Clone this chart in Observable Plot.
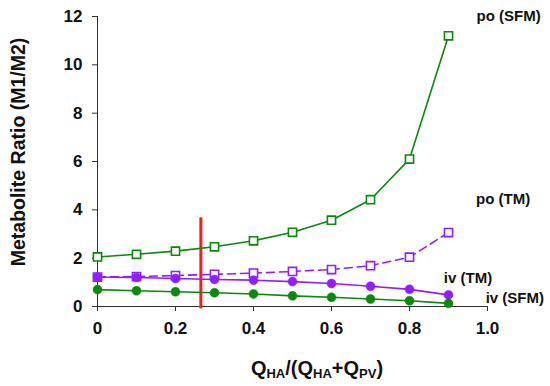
<!DOCTYPE html>
<html>
<head>
<meta charset="utf-8">
<script src="https://cdn.jsdelivr.net/npm/d3@7"></script>
<script src="https://cdn.jsdelivr.net/npm/@observablehq/plot@0.6"></script>
<style>
  html, body { margin: 0; padding: 0; background: #fff; }
  #chart { width: 550px; height: 386px; }
</style>
</head>
<body>
<div id="chart"></div>
<script>
// ---- data ----
const xValues = [0, 0.1, 0.2, 0.3, 0.4, 0.5, 0.6, 0.7, 0.8, 0.9];
const poSFM = [2.05, 2.16, 2.29, 2.47, 2.72, 3.07, 3.57, 4.42, 6.1, 11.2];
const poTM  = [1.22, 1.24, 1.28, 1.33, 1.38, 1.45, 1.53, 1.69, 2.04, 3.06];
const ivTM  = [1.21, 1.20, 1.16, 1.12, 1.09, 1.03, 0.95, 0.84, 0.71, 0.48];
const ivSFM = [0.70, 0.65, 0.61, 0.57, 0.52, 0.44, 0.38, 0.31, 0.24, 0.13];
const xTicks = [0, 0.2, 0.4, 0.6, 0.8, 1.0];
const xTickLabels = ["0", "0.2", "0.4", "0.6", "0.8", "1.0"];
const yTicks = [0, 2, 4, 6, 8, 10, 12];
const redLineX = [0.265];
const redLineTop = 3.67;
const seriesNames = ["po (SFM)", "po (TM)", "iv (TM)", "iv (SFM)"];
const labelX = [1.054, 1.04, 0.95, 1.07];
const labelY = [12.0, 4.45, 1.16, 0.33];

// ---- build tables ----
const seriesValues = [poSFM, poTM, ivTM, ivSFM];
const rows = [];
seriesNames.forEach((name, i) => {
  xValues.forEach((x, j) => rows.push({series: name, x, y: seriesValues[i][j]}));
});
const labels = seriesNames.map((name, i) => ({name, x: labelX[i], y: labelY[i]}));

const green = "#0d870d";
const purple = "#8f1fff";
const style = {
  "po (SFM)": {color: green, dash: null, symbol: "square"},
  "po (TM)":  {color: purple, dash: "8,5", symbol: "square"},
  "iv (TM)":  {color: purple, dash: null, symbol: "circle"},
  "iv (SFM)": {color: green, dash: null, symbol: "circle"}
};

const marks = [];
// axis lines
marks.push(Plot.ruleX([0], {y1: 0, y2: 12, stroke: "#333", strokeWidth: 1}));
marks.push(Plot.ruleY([0], {x1: 0, x2: 1, stroke: "#333", strokeWidth: 1}));
marks.push(Plot.axisY({ticks: yTicks, tickSize: 5, tickPadding: 10, label: null, stroke: "#333", fill: "#111"}));
marks.push(Plot.axisX({ticks: xTicks, tickSize: 5, tickPadding: 10, label: null, stroke: "#333", fill: "#111",
  tickFormat: d => xTickLabels[xTicks.indexOf(d)]}));

// red marker line
marks.push(Plot.ruleX(redLineX, {y1: -0.1, y2: redLineTop, stroke: "#ff1a1a", strokeWidth: 3}));

for (const name of seriesNames) {
  const s = style[name];
  const data = rows.filter(r => r.series === name);
  marks.push(Plot.line(data, {x: "x", y: "y", stroke: s.color, strokeWidth: 1.6, strokeDasharray: s.dash}));
}
for (const name of seriesNames) {
  const s = style[name];
  const data = rows.filter(r => r.series === name);
  if (s.symbol === "square") {
    marks.push(Plot.dot(data, {x: "x", y: "y", symbol: "square", r: 4.6, fill: "white", stroke: s.color, strokeWidth: 1.6}));
  } else {
    marks.push(Plot.dot(data, {x: "x", y: "y", symbol: "circle", r: 4.5, fill: s.color, stroke: s.color, strokeWidth: 0.5}));
  }
}
marks.push(Plot.text(labels, {x: "x", y: "y", text: "name", fontSize: 15, fontWeight: "bold", fill: "#111", textAnchor: "middle"}));

const chart = Plot.plot({
  width: 550,
  height: 386,
  marginLeft: 97,
  marginRight: 63,
  marginTop: 16,
  marginBottom: 80,
  x: {domain: [0, 1], axis: null},
  y: {domain: [0, 12], axis: null},
  style: {fontFamily: "'Liberation Sans', Arial, sans-serif", fontSize: "17px", fontWeight: "bold", background: "white", overflow: "visible"},
  marks
});
document.getElementById("chart").appendChild(chart);

// ---- axis titles ----
const svg = d3.select(chart);
svg.append("text")
  .attr("transform", "translate(25,152) rotate(-90)")
  .attr("text-anchor", "middle")
  .attr("font-size", 19.5)
  .attr("font-weight", "bold")
  .attr("fill", "#111")
  .text("Metabolite Ratio (M1/M2)");

const xt = svg.append("text")
  .attr("x", 317).attr("y", 375)
  .attr("text-anchor", "middle")
  .attr("font-size", 20)
  .attr("font-weight", "bold")
  .attr("fill", "#111");
const parts = [["Q", false], ["HA", true], ["/(Q", false], ["HA", true], ["+Q", false], ["PV", true], [")", false]];
parts.forEach(([t, sub], i) => {
  const ts = xt.append("tspan").text(t);
  const prevSub = i > 0 && parts[i - 1][1];
  if (sub) ts.attr("font-size", 13).attr("dy", 3);
  else if (prevSub) ts.attr("dy", -3);
});
</script>
</body>
</html>
